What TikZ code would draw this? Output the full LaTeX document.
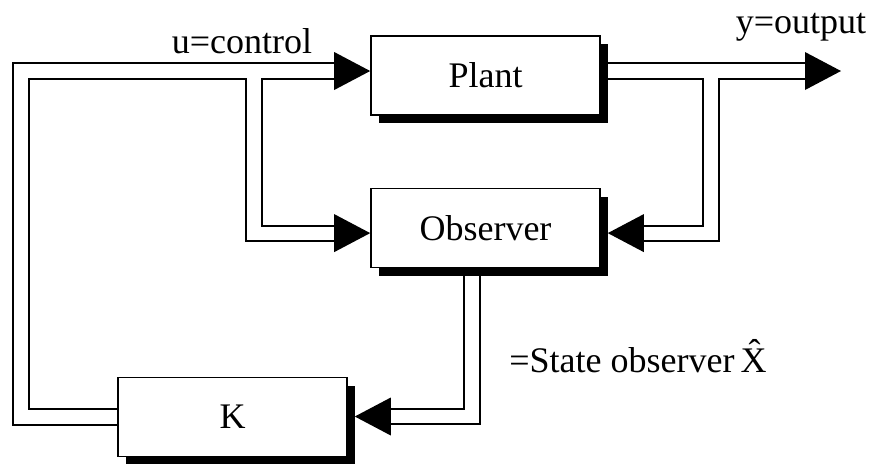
\documentclass[tikz,border=0pt]{standalone}
\usepackage{fontspec}
\setmainfont{Liberation Serif}
\usetikzlibrary{positioning,calc,shadows,backgrounds}
\tikzset{
  block/.style={draw,line width=0.8pt,fill=white,minimum width=114.5pt,
    minimum height=39.5pt,font=\fontsize{18}{21}\selectfont,
    drop shadow={shadow xshift=4pt,shadow yshift=-4pt,fill=black,opacity=1}},
  pipeout/.style={line width=8.6pt,line join=miter},
  pipein/.style={line width=6.6pt,white,line join=miter},
  lbl/.style={font=\fontsize{18}{21}\selectfont,inner sep=0pt},
  % solid head, tip at the pic origin, pointing along +x
  head/.pic={\fill (0,0) -- (-36,-19) -- (-36,19) -- cycle;},
}

\begin{document}
\begin{tikzpicture}[x=0.5pt,y=-0.5pt]
  \useasboundingbox (0,0) rectangle (874,463);

  % blocks
  \node[block] (plant) at (485.5,75.5) {Plant};
  \node[block,below=36pt of plant] (observer) {Observer};
  \node[block] (k) at (232.5,417) {K};

  % arrow tips
  \coordinate (utip) at ($(plant.west)+(0,-4.5)$);
  \coordinate (oltip) at ($(observer.west)+(0,5)$);
  \coordinate (ytip) at (841,71);
  \coordinate (ortip) at ($(observer.east)+(7,5)$);
  \coordinate (ktip) at ($(k.east)+(7,-0.5)$);

  % pipe corners and branch points
  \coordinate (uloop) at (21,71);
  \coordinate (usplit) at (254,71);
  \coordinate (ysplit) at (711,71);
  \coordinate (xdrop) at ($(observer.south)+(-13.5,0)$);

  % double-line pipes: black pass, then white pass
  \begin{scope}[on background layer]
    \foreach \pass in {pipeout,pipein}{
      \draw[\pass] (k.west) -| (uloop) -- ($(utip)+(-34,0)$);
      \draw[\pass] (usplit) |- ($(oltip)+(-34,0)$);
      \draw[\pass] (plant.east |- ytip) -- ($(ytip)+(-34,0)$);
      \draw[\pass] (ysplit) |- ($(ortip)+(34,0)$);
      \draw[\pass] (xdrop) |- ($(ktip)+(34,0)$);
    }
  \end{scope}

  % arrowheads
  \pic at (utip) {head};
  \pic at (oltip) {head};
  \pic at (ytip) {head};
  \pic[rotate=180] at (ortip) {head};
  \pic[rotate=180] at (ktip) {head};

  % labels
  \node[lbl,anchor=base] (ulabel) at (242,53) {u=control};
  \node[lbl,anchor=base] (ylabel) at (801,33) {y=output};
  \node[lbl,anchor=base west] (xlabel) at (509,372) {=State observer\,\^{X}};
\end{tikzpicture}
\end{document}
